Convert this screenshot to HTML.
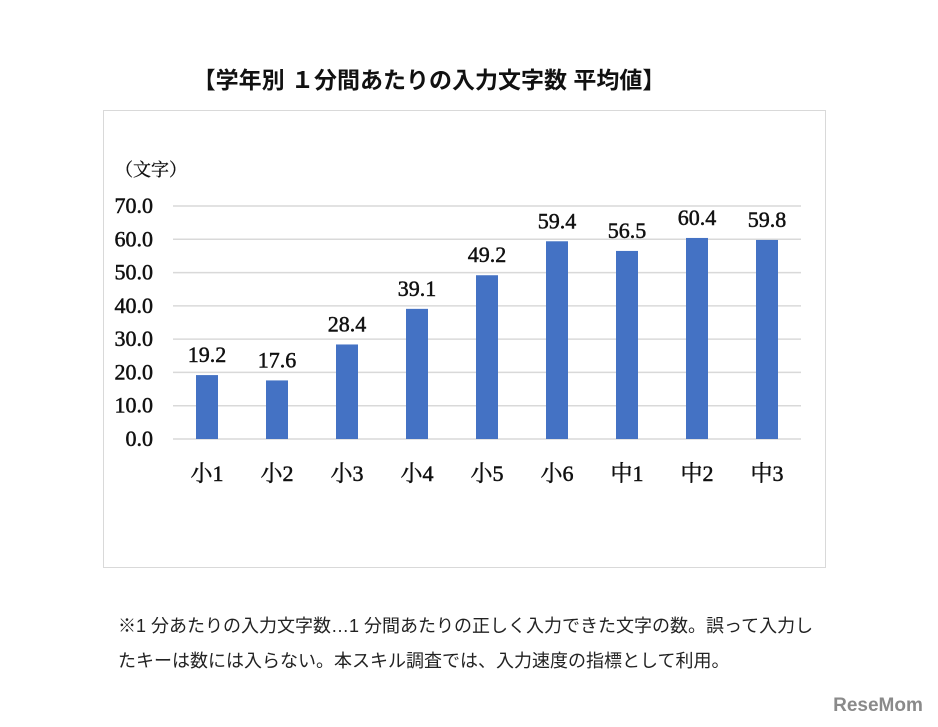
<!DOCTYPE html>
<html><head><meta charset="utf-8"><style>
body{margin:0;background:#fff;width:938px;height:727px;overflow:hidden;}
svg{display:block}
</style></head><body>
<svg width="938" height="727" xmlns="http://www.w3.org/2000/svg">
<text x="429" y="88" text-anchor="middle" font-family="Liberation Sans, Noto Sans CJK JP, sans-serif" font-size="23" font-weight="bold" fill="#111">【学年別 １分間あたりの入力文字数 平均値】</text>
<rect x="103.5" y="110.5" width="722" height="457" fill="none" stroke="#d9d9d9"/>
<text x="115" y="176" font-family="Liberation Serif, Noto Serif CJK SC, serif" font-size="18" fill="#111" stroke="#111" stroke-width="0.3">（文字）</text>
<g id="grid"></g><g id="bars"></g>
<text x="118" y="632" font-family="Liberation Sans, Noto Sans CJK JP, sans-serif" font-size="18" fill="#222">※1 分あたりの入力文字数…1 分間あたりの正しく入力できた文字の数。誤って入力し</text>
<text x="118" y="667" font-family="Liberation Sans, Noto Sans CJK JP, sans-serif" font-size="18" fill="#222">たキーは数には入らない。本スキル調査では、入力速度の指標として利用。</text>
<text x="878" y="711" text-anchor="middle" font-family="Liberation Sans, sans-serif" font-size="19" font-weight="bold" fill="#8a8a8a">ReseMom</text>
</svg>
<script>
const categories=["小1","小2","小3","小4","小5","小6","中1","中2","中3"];
const values=[19.2,17.6,28.4,39.1,49.2,59.4,56.5,60.4,59.8];
const ticks=[0,10,20,30,40,50,60,70];
const ns="http://www.w3.org/2000/svg";
const y=v=>439-v*(233/70);
const x=i=>207+i*70;
function mk(t,a,p,txt){const e=document.createElementNS(ns,t);for(const k in a)e.setAttribute(k,a[k]);if(txt!=null)e.textContent=txt;p.appendChild(e);return e;}
const g=document.getElementById('grid'),b=document.getElementById('bars');
const txtStyle={'font-family':'Liberation Serif, Noto Serif CJK SC, serif',fill:'#111',stroke:'#111','stroke-width':0.5};
ticks.forEach(t=>{
 const l=mk('line',{x1:173,x2:801,y1:y(t),y2:y(t),stroke:'#d9d9d9','stroke-width':1.5},g);
 
 
 const tx=mk('text',Object.assign({x:153,y:y(t)+7,'text-anchor':'end','font-size':22},txtStyle),g,t.toFixed(1));
 
 
});
categories.forEach((c,i)=>{
 const r=mk('rect',{x:x(i)-11,y:y(values[i]),width:22,height:439-y(values[i]),fill:'#4472c4'},b);
 
 
 const v=mk('text',Object.assign({x:x(i),y:y(values[i])-13,'text-anchor':'middle','font-size':22},txtStyle),b,values[i].toFixed(1));
 
 
 const cl=mk('text',Object.assign({x:x(i),y:481,'text-anchor':'middle','font-size':22},txtStyle),b,c);
 
 
});
</script>
</body></html>
